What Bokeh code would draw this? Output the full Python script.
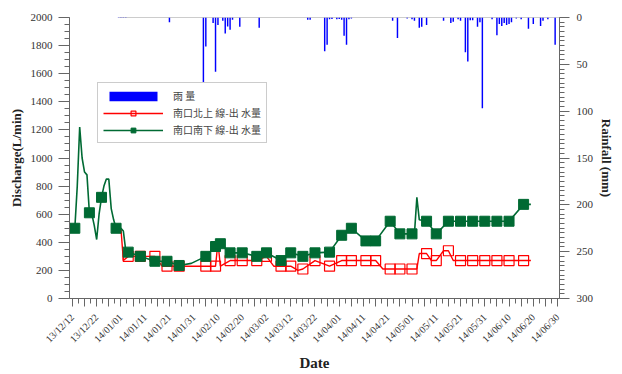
import math
import pandas as pd
from bokeh.plotting import figure
from bokeh.models import (Range1d, LinearAxis, FixedTicker, SingleIntervalTicker,
                          CustomJSTickFormatter, Legend, LegendItem, ColumnDataSource)
from bokeh.embed import file_html
from bokeh.resources import INLINE

# ---------------- data ----------------
tick_labels = ["13/12/12", "13/12/22", "14/01/01", "14/01/11", "14/01/21", "14/01/31",
               "14/02/10", "14/02/20", "14/03/02", "14/03/12", "14/03/22", "14/04/01",
               "14/04/11", "14/04/21", "14/05/01", "14/05/11", "14/05/21", "14/05/31",
               "14/06/10", "14/06/20", "14/06/30"]

rain_dates = ["2013-12-31", "2014-01-01", "2014-01-02", "2014-01-03", "2014-01-21",
              "2014-02-04", "2014-02-05", "2014-02-08", "2014-02-09", "2014-02-10",
              "2014-02-12", "2014-02-13", "2014-02-14", "2014-02-15", "2014-02-16",
              "2014-02-19", "2014-02-27", "2014-03-19", "2014-03-20", "2014-03-26",
              "2014-03-27", "2014-03-28", "2014-03-29", "2014-03-31", "2014-04-01",
              "2014-04-02", "2014-04-03", "2014-04-04", "2014-04-05", "2014-04-06",
              "2014-04-23", "2014-04-25", "2014-04-29", "2014-05-01", "2014-05-02",
              "2014-05-04", "2014-05-05", "2014-05-07", "2014-05-14", "2014-05-17",
              "2014-05-18", "2014-05-20", "2014-05-21", "2014-05-23", "2014-05-24",
              "2014-05-25", "2014-05-26", "2014-05-28", "2014-05-29", "2014-05-30",
              "2014-06-03", "2014-06-05", "2014-06-06", "2014-06-07", "2014-06-08",
              "2014-06-09", "2014-06-10", "2014-06-11", "2014-06-13", "2014-06-15",
              "2014-06-18", "2014-06-20", "2014-06-23", "2014-06-24", "2014-06-26",
              "2014-06-29"]
rain_mm = [0.5, 0.5, 0.5, 0.5, 5,
           72, 31, 6, 58, 8,
           3.5, 17, 9.5, 13, 2.5,
           10, 11, 2.5, 2.5, 36,
           29, 2, 1.5, 2, 1.5,
           2.5, 19.5, 29, 2, 1,
           3.5, 22, 1, 2, 3.5,
           11, 10, 8, 3.5, 6,
           4.5, 2, 3.5, 37, 47,
           3, 3, 10, 5, 97,
           2, 19, 7, 9, 6,
           8, 7, 5, 1, 2,
           12, 7, 9, 3.5, 2,
           29]

south_dates = ["2013-12-13", "2013-12-14", "2013-12-15", "2013-12-16", "2013-12-17",
               "2013-12-18", "2013-12-19", "2013-12-20", "2013-12-21", "2013-12-22",
               "2013-12-23", "2013-12-24", "2013-12-25", "2013-12-26", "2013-12-27",
               "2013-12-28", "2013-12-29", "2013-12-30", "2013-12-31", "2014-01-01",
               "2014-01-02", "2014-01-03", "2014-01-04", "2014-01-09", "2014-01-15",
               "2014-01-20", "2014-01-25", "2014-01-30", "2014-02-05", "2014-02-09",
               "2014-02-11", "2014-02-15", "2014-02-20", "2014-02-26", "2014-03-02",
               "2014-03-08", "2014-03-12", "2014-03-17", "2014-03-22", "2014-03-28",
               "2014-04-02", "2014-04-06", "2014-04-12", "2014-04-16", "2014-04-22",
               "2014-04-26", "2014-05-01", "2014-05-02", "2014-05-03", "2014-05-04",
               "2014-05-07", "2014-05-11", "2014-05-16", "2014-05-21", "2014-05-26",
               "2014-05-31", "2014-06-05", "2014-06-10", "2014-06-16", "2014-06-19"]
south_flow = [500, 800, 1220, 1000, 900,
              880, 610, 600, 520, 420,
              600, 720, 800, 850, 850,
              640, 560, 500, 500, 500,
              480, 340, 330, 300, 265,
              265, 235, 250, 300, 370,
              390, 325, 325, 300, 325,
              270, 325, 300, 325, 330,
              450, 500, 410, 410, 550,
              460, 460, 460, 720, 560,
              550, 460, 550, 550, 550,
              550, 550, 550, 670, 670]
south_mark = [1, 0, 0, 0, 0,
              0, 1, 0, 0, 0,
              0, 1, 0, 0, 0,
              0, 0, 1, 0, 0,
              0, 0, 1, 1, 1,
              1, 1, 0, 1, 1,
              1, 1, 1, 1, 1,
              1, 1, 1, 1, 1,
              1, 1, 1, 1, 1,
              1, 1, 0, 0, 0,
              1, 1, 1, 1, 1,
              1, 1, 1, 1, 0]

north_dates = ["2014-01-01", "2014-01-02", "2014-01-04", "2014-01-09", "2014-01-15",
               "2014-01-18", "2014-01-20", "2014-01-25", "2014-02-05", "2014-02-09",
               "2014-02-10", "2014-02-11", "2014-02-15", "2014-02-20", "2014-02-26",
               "2014-03-02", "2014-03-05", "2014-03-08", "2014-03-12", "2014-03-15",
               "2014-03-17", "2014-03-22", "2014-03-28", "2014-04-02", "2014-04-06",
               "2014-04-12", "2014-04-16", "2014-04-19", "2014-04-22", "2014-04-26",
               "2014-05-01", "2014-05-03", "2014-05-04", "2014-05-07", "2014-05-09",
               "2014-05-11", "2014-05-14", "2014-05-16", "2014-05-18", "2014-05-21",
               "2014-05-26", "2014-05-31", "2014-06-05", "2014-06-10", "2014-06-16",
               "2014-06-19"]
north_flow = [500, 270, 300, 300, 300,
              230, 230, 230, 230, 230,
              400, 230, 270, 270, 270,
              300, 230, 230, 230, 200,
              210, 270, 230, 270, 270,
              270, 270, 210, 210, 210,
              210, 210, 320, 320, 270,
              270, 340, 340, 270, 270,
              270, 270, 270, 270, 270,
              270]
north_mark = [0, 0, 1, 1, 1,
              0, 1, 1, 1, 1,
              0, 0, 1, 1, 1,
              1, 0, 1, 1, 0,
              1, 1, 1, 1, 1,
              1, 1, 0, 1, 1,
              1, 0, 0, 1, 0,
              1, 0, 1, 0, 1,
              1, 1, 1, 1, 1,
              0]

legend_labels = ["雨 量", "南口北上 線-出 水量", "南口南下 線-出 水量"]

# ---------------- build ----------------
DAY = 86400000.0
serif = "Liberation Serif"
cjk = "Noto Sans CJK TC"
axis_col = "#666666"
text_col = "#333333"
green = "#006a33"
red = "#ff0000"
blue = "#0000ff"

lab_dt = pd.to_datetime(tick_labels, format="%y/%m/%d")
lab_ms = [t.value / 1e6 for t in lab_dt]
major = []
for m in lab_ms:
    major += [m, m + 5 * DAY]
major = major[:-1]
minor = [lab_ms[0] + k * 2.5 * DAY for k in range(int((lab_ms[-1] - lab_ms[0]) / (2.5 * DAY)) + 1)]

x0 = lab_ms[0] - 1.2 * DAY
x1 = lab_ms[-1] + 0.8 * DAY

rain_src = ColumnDataSource(dict(x=pd.to_datetime(rain_dates), y=rain_mm))
s_dt = pd.to_datetime(south_dates)
n_dt = pd.to_datetime(north_dates)
s_line = ColumnDataSource(dict(x=s_dt, y=south_flow))
n_line = ColumnDataSource(dict(x=n_dt, y=north_flow))
s_pts = ColumnDataSource(dict(x=[d for d, m in zip(s_dt, south_mark) if m],
                              y=[v for v, m in zip(south_flow, south_mark) if m]))
n_pts = ColumnDataSource(dict(x=[d for d, m in zip(n_dt, north_mark) if m],
                              y=[v for v, m in zip(north_flow, north_mark) if m]))

p = figure(width=622, height=374, x_axis_type="datetime",
           x_range=Range1d(x0, x1), y_range=Range1d(0, 2000),
           output_backend="svg", toolbar_location=None,
           min_border_left=69, min_border_right=63, min_border_top=17, min_border_bottom=74)
p.extra_y_ranges = {"rain": Range1d(300, 0)}
p.xgrid.visible = False
p.ygrid.visible = False
p.outline_line_color = None

# rainfall bars (hanging from top)
p.line(x=[rain_src.data["x"].min(), pd.Timestamp(x1, unit="ms")], y=[0, 0],
       y_range_name="rain", line_color="#999999", line_width=1)
rain_r = p.vbar(x="x", top="y", bottom=0, width=0.6 * DAY, source=rain_src,
                y_range_name="rain", fill_color=blue, line_color=None)

# discharge lines
n_l = p.line("x", "y", source=n_line, line_color=red, line_width=1.4)
n_s = p.scatter("x", "y", source=n_pts, marker="square", size=10,
                fill_color=None, line_color=red, line_width=1.2)
s_l = p.line("x", "y", source=s_line, line_color=green, line_width=1.6)
s_s = p.scatter("x", "y", source=s_pts, marker="square", size=10,
                fill_color=green, line_color=green)

# axes
xa = p.xaxis[0]
xa.ticker = FixedTicker(ticks=major, minor_ticks=minor)
xa.formatter = CustomJSTickFormatter(args=dict(start=lab_ms[0], labels=tick_labels), code="""
    const i = Math.round((tick - start) / (5 * 86400000));
    if (i % 2 !== 0) return "";
    const l = labels[i / 2];
    return l === undefined ? "" : l;
""")
xa.major_label_orientation = math.pi / 4
xa.major_tick_out = 8
xa.major_tick_in = 0
xa.minor_tick_out = 5
xa.minor_tick_in = 0
xa.major_label_standoff = 9
xa.major_label_text_font_size = "10px"
xa.axis_label = "Date"
xa.axis_label_standoff = 4
xa.axis_label_text_font_size = "15px"

ya = p.yaxis[0]
ya.ticker = SingleIntervalTicker(interval=200, num_minor_ticks=4)
ya.major_tick_out = 11
ya.major_tick_in = 0
ya.minor_tick_out = 5
ya.minor_tick_in = 0
ya.major_label_standoff = 6
ya.major_label_text_font_size = "11px"
ya.axis_label = "Discharge(L/min)"
ya.axis_label_standoff = 4
ya.axis_label_text_font_size = "13px"

ra = LinearAxis(y_range_name="rain", ticker=SingleIntervalTicker(interval=50, num_minor_ticks=10))
ra.major_tick_out = 10
ra.major_tick_in = 0
ra.minor_tick_out = 5
ra.minor_tick_in = 0
ra.major_label_standoff = 7
ra.major_label_text_font_size = "11px"
ra.axis_label = "Rainfall (mm)"
ra.axis_label_standoff = 3
ra.axis_label_text_font_size = "13px"
p.add_layout(ra, "right")

for ax in (xa, ya, ra):
    ax.axis_line_color = axis_col
    ax.major_tick_line_color = axis_col
    ax.minor_tick_line_color = axis_col
    ax.major_label_text_color = text_col
    ax.major_label_text_font = serif
    ax.axis_label_text_font = serif
    ax.axis_label_text_font_style = "bold"
    ax.axis_label_text_color = "#222222"

legend = Legend(items=[
    LegendItem(label=legend_labels[0], renderers=[rain_r]),
    LegendItem(label=legend_labels[1], renderers=[n_l, n_s]),
    LegendItem(label=legend_labels[2], renderers=[s_l, s_s]),
], location=(28, 155), orientation="vertical",
    glyph_width=60, glyph_height=12, label_height=12, spacing=2, padding=5, margin=0,
    label_standoff=10, label_text_font=cjk, label_text_font_size="10px",
    label_text_color="#444444", border_line_color="#999999", border_line_width=1,
    background_fill_color="white", background_fill_alpha=1)
p.add_layout(legend, "center")

open("out.html", "w").write(file_html(p, INLINE))
